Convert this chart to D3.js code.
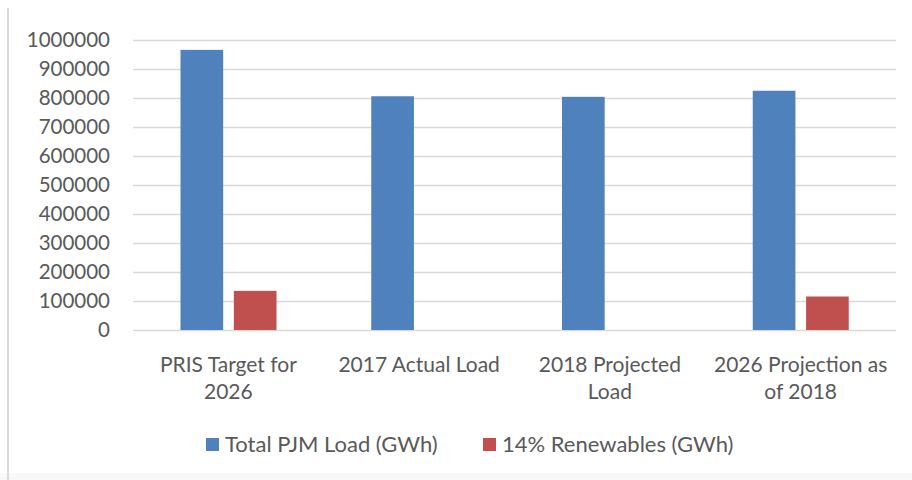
<!DOCTYPE html>
<html>
<head>
<meta charset="utf-8">
<script src="https://cdn.jsdelivr.net/npm/d3@7"></script>
<style>
  html, body { margin: 0; padding: 0; background: #ffffff; }
  svg { display: block; }
  text { font-family: Lato, "Noto Sans", sans-serif; fill: #595959; }
</style>
</head>
<body>
<svg id="chart" width="912" height="480"></svg>
<script>
// ---- data ----
const categories = ["PRIS Target for 2026", "2017 Actual Load", "2018 Projected Load", "2026 Projection as of 2018"];
const categoryLines = [["PRIS Target for", "2026"], ["2017 Actual Load"], ["2018 Projected", "Load"], ["2026 Projection as", "of 2018"]];
const seriesNames = ["Total PJM Load (GWh)", "14% Renewables (GWh)"];
const totalLoad = [966000, 806000, 804000, 825000];
const renewables = [135000, 0, 0, 115500];
const yTicks = [0, 100000, 200000, 300000, 400000, 500000, 600000, 700000, 800000, 900000, 1000000];
const colors = ["#4F81BD", "#C0504D"];

const svg = d3.select("#chart");

// chart-area border (left) and faint bottom band
svg.append("rect").attr("x", 0).attr("y", 473).attr("width", 912).attr("height", 7).attr("fill", "#f8f8f8");
svg.append("line").attr("x1", 8).attr("x2", 8).attr("y1", 8).attr("y2", 480)
  .attr("stroke", "#d9d9d9").attr("stroke-width", 2);

const x0 = d3.scaleBand().domain(categories).range([133, 896]).paddingInner(0).paddingOuter(0);
const x1 = d3.scaleBand().domain(seriesNames).range([47.5, 143.5]).paddingInner(0.2).paddingOuter(0);
const y = d3.scaleLinear().domain([0, 1000000]).range([330, 40]);

// gridlines
const grid = svg.append("g")
  .attr("transform", "translate(133,0)")
  .call(d3.axisLeft(y).tickValues(yTicks).tickSize(-763).tickFormat(""));
grid.select(".domain").remove();
grid.selectAll(".tick line").attr("stroke", "#d9d9d9").attr("stroke-width", 1.5);

// y axis labels
const yAxis = svg.append("g")
  .attr("transform", "translate(133,0)")
  .call(d3.axisLeft(y).tickValues(yTicks).tickSize(0).tickPadding(23).tickFormat(d3.format("d")));
yAxis.select(".domain").remove();
yAxis.selectAll("text").style("font-family", "Lato, 'Noto Sans', sans-serif")
  .style("font-size", "20.5px").attr("fill", "#595959");

// bars
const rows = categories.map((c, i) => ({ cat: c, vals: [totalLoad[i], renewables[i]] }));
const groups = svg.append("g").selectAll("g").data(rows).join("g")
  .attr("transform", d => `translate(${x0(d.cat)},0)`);
groups.selectAll("rect")
  .data(d => d.vals.map((v, j) => ({ s: seriesNames[j], v, j })).filter(e => e.v > 0))
  .join("rect")
  .attr("x", e => x1(e.s))
  .attr("width", x1.bandwidth())
  .attr("y", e => y(e.v))
  .attr("height", e => y(0) - y(e.v))
  .attr("fill", e => colors[e.j]);

// category labels
categories.forEach((c, i) => {
  const t = svg.append("text")
    .attr("x", x0(c) + x0.bandwidth() / 2)
    .attr("y", 372)
    .attr("text-anchor", "middle")
    .style("font-size", "21px");
  categoryLines[i].forEach((ln, k) => {
    t.append("tspan").attr("x", x0(c) + x0.bandwidth() / 2).attr("dy", k === 0 ? 0 : 27).text(ln);
  });
});

// legend
const legendX = [206, 483];
seriesNames.forEach((s, j) => {
  svg.append("rect").attr("x", legendX[j]).attr("y", 438).attr("width", 13).attr("height", 13).attr("fill", colors[j]);
  svg.append("text").attr("x", legendX[j] + 19).attr("y", 452).style("font-size", "22px").text(s);
});
</script>
</body>
</html>
